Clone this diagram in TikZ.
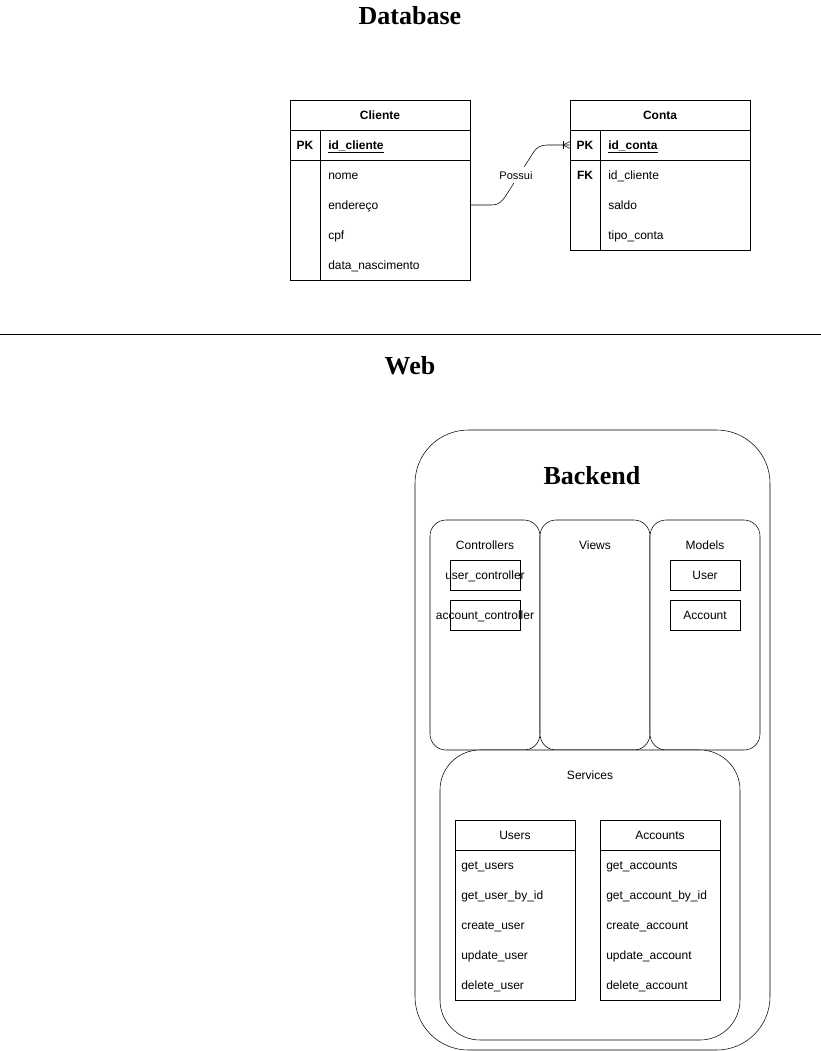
\documentclass[tikz,border=0pt]{standalone}
\usepackage{fontspec}
\setmainfont{Liberation Sans}
\newfontfamily\titlefont{Liberation Serif}
\usepackage{tikz}

\tikzset{
  txt/.style={font=\fontsize{9}{11}\selectfont, inner sep=0pt, text height=8pt, text depth=2pt},
  btxt/.style={txt, font=\fontsize{9}{11}\selectfont\bfseries},
  heading/.style={font=\titlefont\fontsize{19.5}{23}\selectfont\bfseries, inner sep=0pt},
  box/.style={draw, fill=white, inner sep=0pt},
  layer/.style={box, rounded corners=12pt, minimum width=82.5pt, minimum height=172.5pt},
  item/.style={box, minimum width=52.5pt, minimum height=22.5pt},
}

\begin{document}
\begin{tikzpicture}[x=0.75pt, y=-0.75pt]
\useasboundingbox (0,0) rectangle (821,1051);

\node[heading] (dbTitle) at (410,16) {Database};
\draw (0,334) -- (821,334);
\node[heading] (webTitle) at (410,366) {Web};

% Cliente
\node[box, minimum width=135pt, minimum height=135pt] (cliente) at (380,190) {};
\draw (290,130) -- (470,130);
\draw (290,160) -- (470,160);
\draw (320,130) -- (320,280);
\node[btxt] (clienteHead) at (380,115) {Cliente};
\node[btxt] (clientePK) at (305,145) {PK};
\node[btxt, anchor=west] (clienteId) at (328,145) {\underline{id\_cliente}};
\foreach \t [count=\i] in {nome, endereço, cpf, data\_nascimento}
  \node[txt, anchor=west] (clienteRow\i) at (328,145+30*\i) {\t};

% Conta
\node[box, minimum width=135pt, minimum height=112.5pt] (conta) at (660,175) {};
\draw (570,130) -- (750,130);
\draw (570,160) -- (750,160);
\draw (600,130) -- (600,250);
\node[btxt] (contaHead) at (660,115) {Conta};
\node[btxt] (contaPK) at (585,145) {PK};
\node[btxt, anchor=west] (contaId) at (608,145) {\underline{id\_conta}};
\node[btxt] (contaFK) at (585,175) {FK};
\foreach \t [count=\i] in {id\_cliente, saldo, tipo\_conta}
  \node[txt, anchor=west] (contaRow\i) at (608,145+30*\i) {\t};

% relation
\draw (cliente.east |- clienteRow2) -- (492,205)
  .. controls (499,205) and (502,201) .. (505,197) -- (533,153)
  .. controls (536,148) and (540,145) .. (547,145) -- (conta.west |- contaPK);
\draw (563,141) -- (563,149);
\draw (570,141.5) -- (563,145) -- (570,148.5);
\node[txt, font=\fontsize{8.25}{10}\selectfont, fill=white, inner sep=1pt] (possui) at (516,175) {Possui};

% Backend
\node[draw, rounded corners=40pt, minimum width=266.25pt, minimum height=465pt] (backend) at (592.5,740) {};
\node[heading] (backendTitle) at (592,476) {Backend};

\node[layer] (controllers) at (485,635) {};
\node[layer] (views) at (595,635) {};
\node[layer] (models) at (705,635) {};
\node[txt] (controllersLbl) at (485,545) {Controllers};
\node[txt] (viewsLbl) at (595,545) {Views};
\node[txt] (modelsLbl) at (705,545) {Models};

\node[item, label={[txt]center:user\_controller}] (userCtrl) at (485,575) {};
\node[item, label={[txt]center:account\_controller}] (accountCtrl) at (485,615) {};
\node[item, label={[txt]center:User}] (userModel) at (705,575) {};
\node[item, label={[txt]center:Account}] (accountModel) at (705,615) {};

% Services
\node[box, rounded corners=30pt, minimum width=225pt, minimum height=217.5pt] (services) at (590,895) {};
\node[txt] (servicesLbl) at (590,775) {Services};

\node[box, minimum width=90pt, minimum height=135pt] (users) at (515,910) {};
\draw (455,850) -- (575,850);
\node[txt] (usersHead) at (515,835) {Users};
\foreach \t [count=\i] in {get\_users, get\_user\_by\_id, create\_user, update\_user, delete\_user}
  \node[txt, anchor=west] (usersRow\i) at (461,835+30*\i) {\t};

\node[box, minimum width=90pt, minimum height=135pt] (accounts) at (660,910) {};
\draw (600,850) -- (720,850);
\node[txt] (accountsHead) at (660,835) {Accounts};
\foreach \t [count=\i] in {get\_accounts, get\_account\_by\_id, create\_account, update\_account, delete\_account}
  \node[txt, anchor=west] (accountsRow\i) at (606,835+30*\i) {\t};
\end{tikzpicture}
\end{document}
